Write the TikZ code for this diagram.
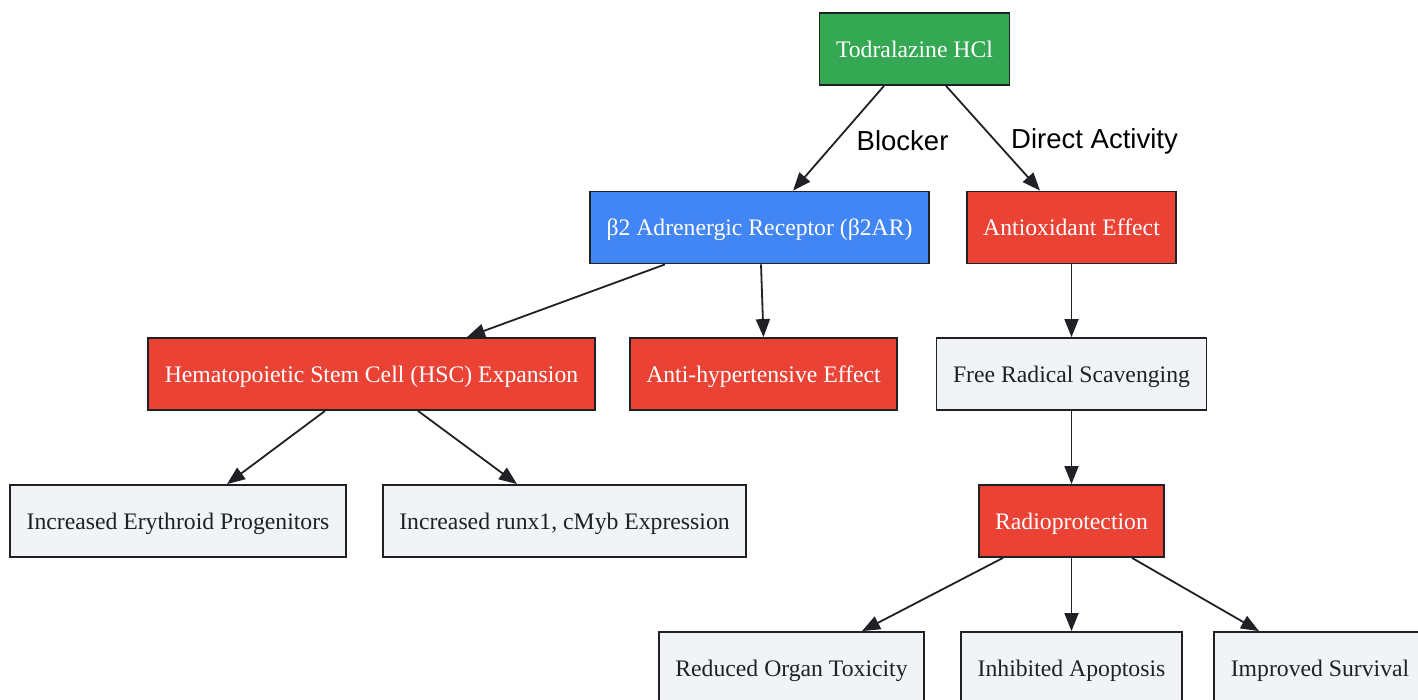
\documentclass[tikz,border=0pt]{standalone}
\usepackage{fontspec}
\setmainfont{Liberation Serif}
\newfontfamily\edgefont{Liberation Sans}
\usetikzlibrary{arrows.meta}

\definecolor{drug}{HTML}{34A853}
\definecolor{target}{HTML}{4285F4}
\definecolor{effect}{HTML}{EA4335}
\definecolor{outcome}{HTML}{F1F3F4}
\definecolor{ink}{HTML}{202124}

\begin{document}
\begin{tikzpicture}[x=1pt,y=-1pt,
    box/.style={draw=ink,line width=1.8pt,minimum height=72pt,inner xsep=16.5pt,
      text height=17pt,text depth=0pt,font=\fontsize{23.7}{28}\selectfont},
    drugbox/.style={box,fill=drug,text=white},
    targetbox/.style={box,fill=target,text=white},
    effectbox/.style={box,fill=effect,text=white},
    outcomebox/.style={box,fill=outcome,text=ink},
    link/.style={draw=ink,line width=1.8pt,-{Triangle[length=18pt,width=14pt]}},
    linklabel/.style={font=\edgefont\fontsize{27.5}{32}\selectfont,text=black}]

  \useasboundingbox[fill=white] (0,0) rectangle (1418,700);

  % nodes
  \node [drugbox]    (drug)    at (914.5,49)   {Todralazine HCl};
  \node [targetbox]  (beta)    at (759.5,227.5) {β2 Adrenergic Receptor (β2AR)};
  \node [effectbox]  (antiox)  at (1071.5,227.5) {Antioxidant Effect};
  \node [effectbox]  (hsc)     at (371.5,374)  {Hematopoietic Stem Cell (HSC) Expansion};
  \node [effectbox]  (antihyp) at (763.5,374)  {Anti-hypertensive Effect};
  \node [outcomebox] (radical) at (1071.5,374) {Free Radical Scavenging};
  \node [outcomebox] (eryth)   at (178,521)    {Increased Erythroid Progenitors};
  \node [outcomebox] (runx)    at (564.5,521)  {Increased runx1, cMyb Expression};
  \node [effectbox]  (radio)   at (1071.5,521) {Radioprotection};
  \node [outcomebox] (organ)   at (791.5,668)  {Reduced Organ Toxicity};
  \node [outcomebox] (apopt)   at (1071.5,668) {Inhibited Apoptosis};
  \node [outcomebox] (surv)    at (1320,668)   {Improved Survival};

  % connectors
  \draw [link] ([xshift=-30.5pt]drug.south) -- ([xshift=33.5pt]beta.north)
    node [linklabel,pos=0.5,right=14pt,yshift=-2pt] (blk) {Blocker};
  \draw [link] ([xshift=31.5pt]drug.south) -- ([xshift=-31.5pt]antiox.north)
    node [linklabel,pos=0.5,right=14pt,yshift=-3pt] (dir) {Direct Activity};
  \draw [link] ([xshift=-94.5pt]beta.south) -- ([xshift=95.5pt]hsc.north);
  \draw [link] ([xshift=1.5pt]beta.south) -- (antihyp.north);
  \draw [link] (antiox) -- (radical);
  \draw [link] ([xshift=-46.5pt]hsc.south) -- ([xshift=49pt]eryth.north);
  \draw [link] ([xshift=46.5pt]hsc.south) -- ([xshift=-47.5pt]runx.north);
  \draw [link] (radical) -- (radio);
  \draw [link] ([xshift=-68.5pt]radio.south) -- ([xshift=70.5pt]organ.north);
  \draw [link] (radio) -- (apopt);
  \draw [link] ([xshift=60.5pt]radio.south) -- ([xshift=-61pt]surv.north);
\end{tikzpicture}
\end{document}
